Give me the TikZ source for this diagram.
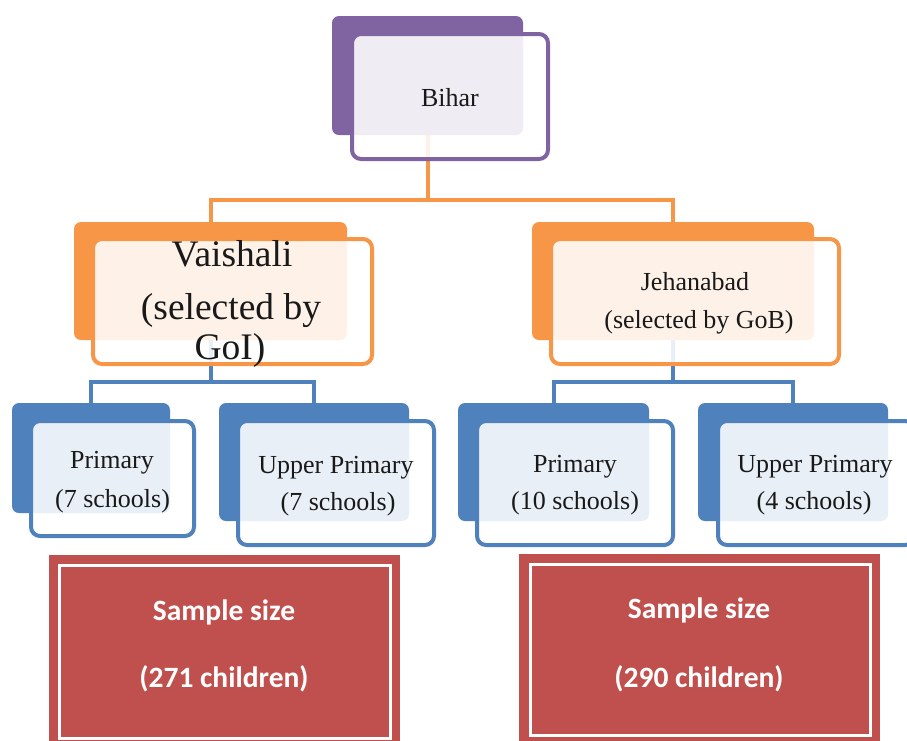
\documentclass[tikz,border=0pt]{standalone}
\usepackage{fontspec}
\setmainfont{Liberation Serif}
\newfontfamily\calfont{Carlito}
\definecolor{cPurple}{HTML}{8064A2}
\definecolor{cOrange}{HTML}{F79646}
\definecolor{cBlue}{HTML}{4F81BD}
\definecolor{cRed}{HTML}{C0504D}
\pgfdeclarelayer{bg}
\pgfsetlayers{bg,main}
\begin{document}
\begin{tikzpicture}[x=1pt,y=-1pt,
  backbox/.style={rectangle, rounded corners=7pt, inner sep=0pt, outer sep=0pt},
  frontbox/.style={rectangle, rounded corners=9pt, draw, line width=4pt, fill=white, fill opacity=0.88, inner sep=0pt, outer sep=0pt},
  lbl/.style={anchor=base, inner sep=0pt, text=black!90, font=\fontsize{26}{30}\selectfont},
  biglbl/.style={anchor=base, inner sep=0pt, text=black!90, font=\fontsize{37.5}{42}\selectfont},
  stxt/.style={anchor=base, inner sep=0pt, text=white, font=\calfont\bfseries\fontsize{29.5}{34}\selectfont},
  samplebox/.style={rectangle, fill=cRed, inner sep=0pt, outer sep=0pt},
  sampleinner/.style={rectangle, draw=white, line width=3pt, inner sep=0pt, outer sep=0pt},
  oline/.style={cOrange, line width=4pt},
  bline/.style={cBlue, line width=4pt}
]
\useasboundingbox (0,0) rectangle (907,740);
\clip (0,0) rectangle (907,740);

% level 1
\node[backbox, fill=cPurple, minimum width=191pt, minimum height=119pt] (biharB) at (427.5,75.5) {};
\node[frontbox, draw=cPurple, minimum width=196pt, minimum height=125pt] (biharF) at (450,96.5) {};
\node[lbl] (biharT) at (450,106) {Bihar};

% level 2
\node[backbox, fill=cOrange, minimum width=273pt, minimum height=118pt] (vaiB) at (210.5,281) {};
\node[frontbox, draw=cOrange, minimum width=279pt, minimum height=125pt] (vaiF) at (232.5,301.5) {};
\node[biglbl] (vaiT1) at (232,266) {Vaishali};
\node[biglbl] (vaiT2) at (231,319) {(selected by};
\node[biglbl] (vaiT3) at (230,359) {GoI)};

\node[backbox, fill=cOrange, minimum width=282pt, minimum height=118pt] (jehB) at (673,281) {};
\node[frontbox, draw=cOrange, minimum width=288pt, minimum height=125pt] (jehF) at (695,301.5) {};
\node[lbl] (jehT1) at (695,290) {Jehanabad};
\node[lbl] (jehT2) at (699,328) {(selected by GoB)};

% level 3
\node[backbox, fill=cBlue, minimum width=158pt, minimum height=110pt] (p1B) at (91,458) {};
\node[frontbox, draw=cBlue, minimum width=163pt, minimum height=115pt] (p1F) at (112.5,478.5) {};
\node[lbl] (p1T1) at (112,468) {Primary};
\node[lbl] (p1T2) at (112.5,507) {(7 schools)};

\node[backbox, fill=cBlue, minimum width=190pt, minimum height=118pt] (u1B) at (314,462) {};
\node[frontbox, draw=cBlue, minimum width=196pt, minimum height=124pt] (u1F) at (336,483) {};
\node[lbl] (u1T1) at (336,473) {Upper Primary};
\node[lbl] (u1T2) at (338,510) {(7 schools)};

\node[backbox, fill=cBlue, minimum width=191pt, minimum height=118pt] (p2B) at (553.5,462) {};
\node[frontbox, draw=cBlue, minimum width=196pt, minimum height=124pt] (p2F) at (575,483) {};
\node[lbl] (p2T1) at (575,472) {Primary};
\node[lbl] (p2T2) at (575,509) {(10 schools)};

\node[backbox, fill=cBlue, minimum width=190pt, minimum height=118pt] (u2B) at (793,462) {};
\node[frontbox, draw=cBlue, minimum width=196pt, minimum height=124pt] (u2F) at (816,483) {};
\node[lbl] (u2T1) at (815,472) {Upper Primary};
\node[lbl] (u2T2) at (814,509) {(4 schools)};

% sample boxes
\node[samplebox, minimum width=351pt, minimum height=193pt] (sL) at (224.5,651.5) {};
\node[sampleinner, minimum width=331pt, minimum height=173pt] (sLi) at (224.5,651.5) {};
\node[stxt] (sLT1) at (224,620) {Sample size};
\node[stxt] (sLT2) at (224,687) {(271 children)};

\node[samplebox, minimum width=361pt, minimum height=194pt] (sR) at (699.5,651) {};
\node[sampleinner, minimum width=340pt, minimum height=171pt] (sRi) at (700,649.5) {};
\node[stxt] (sRT1) at (699,618) {Sample size};
\node[stxt] (sRT2) at (699,687) {(290 children)};

% connectors
\begin{pgfonlayer}{bg}
\draw[oline] (biharB.south) -- ++(0,65) -| (vaiB.north);
\draw[oline] (biharB.south) -- ++(0,65) -| (jehB.north);
\draw[bline] (vaiB.south) -- ++(0,42) -| (p1B.north);
\draw[bline] (vaiB.south) -- ++(0,42) -| (u1B.north);
\draw[bline] (jehB.south) -- ++(0,42) -| (p2B.north);
\draw[bline] (jehB.south) -- ++(0,42) -| (u2B.north);
\end{pgfonlayer}
\end{tikzpicture}
\end{document}
